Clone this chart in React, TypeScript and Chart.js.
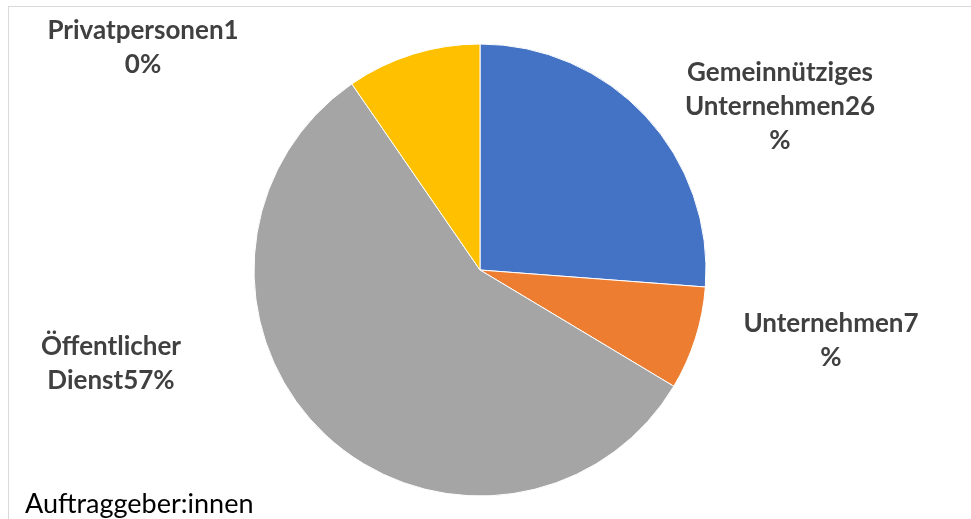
import React, { useEffect, useRef } from "react";
import { Chart, registerables } from "chart.js";

Chart.register(...registerables);

const categories = ["Gemeinnütziges Unternehmen", "Unternehmen", "Öffentlicher Dienst", "Privatpersonen"];
const shares = [26.2, 7.4, 56.8, 9.6];
const sliceColors = ["#4472C4", "#ED7D31", "#A5A5A5", "#FFC000"];
const captionText = "Auftraggeber:innen";

// label layout (canvas px): centre x, first baseline y, wrap width
const labelLayout = [
  { x: 771, y: 74, wrap: 195 },
  { x: 822, y: 325, wrap: 185 },
  { x: 102, y: 348, wrap: 200 },
  { x: 134, y: 32, wrap: 196 },
];

const FONT_FAMILY = "Lato, 'Open Sans', sans-serif";
const LABEL_SIZE = 26;
const CAPTION_SIZE = 27;
const LINE_H = 34;

function wrapText(ctx: CanvasRenderingContext2D, text: string, maxW: number): string[] {
  const words = text.split(" ");
  const lines: string[] = [];
  let cur = "";
  for (const w of words) {
    const trial = cur ? cur + " " + w : w;
    if (ctx.measureText(trial).width <= maxW) {
      cur = trial;
      continue;
    }
    if (cur) {
      lines.push(cur);
      cur = "";
    }
    if (ctx.measureText(w).width <= maxW) {
      cur = w;
      continue;
    }
    let piece = "";
    for (const ch of Array.from(w)) {
      if (ctx.measureText(piece + ch).width <= maxW) piece += ch;
      else {
        lines.push(piece);
        piece = ch;
      }
    }
    cur = piece;
  }
  if (cur) lines.push(cur);
  return lines;
}

const labelPlugin = {
  id: "excelLabels",
  afterDraw(chart: any) {
    const ctx: CanvasRenderingContext2D = chart.ctx;
    const data: number[] = chart.data.datasets[0].data;
    const total = data.reduce((a, b) => a + b, 0);
    ctx.save();
    ctx.font = `bold ${LABEL_SIZE}px ${FONT_FAMILY}`;
    ctx.fillStyle = "#404040";
    ctx.textAlign = "center";
    ctx.textBaseline = "alphabetic";
    chart.data.labels.forEach((lab: string, i: number) => {
      const pct = Math.round((data[i] / total) * 100);
      const L = labelLayout[i];
      const lines = wrapText(ctx, `${lab}${pct}%`, L.wrap);
      lines.forEach((ln, k) => ctx.fillText(ln, L.x, L.y + k * LINE_H));
    });
    ctx.font = `${CAPTION_SIZE}px ${FONT_FAMILY}`;
    ctx.fillStyle = "#000000";
    ctx.textAlign = "left";
    ctx.fillText(captionText, 16, 506);
    ctx.restore();
  },
};

export default function App() {
  const ref = useRef<HTMLCanvasElement | null>(null);
  useEffect(() => {
    if (!ref.current) return;
    const chart = new Chart(ref.current, {
      type: "pie",
      data: {
        labels: categories,
        datasets: [
          {
            data: shares,
            backgroundColor: sliceColors,
            borderColor: "#ffffff",
            borderWidth: 1,
            radius: 226,
          } as any,
        ],
      },
      options: {
        responsive: false,
        animation: false,
        rotation: 0,
        layout: { padding: { left: 0, right: 19, top: 14, bottom: 0 } },
        plugins: {
          legend: { display: false },
          tooltip: { enabled: false },
          title: { display: false },
        },
      },
      plugins: [labelPlugin],
    });
    return () => chart.destroy();
  }, []);
  return (
    <div
      style={{
        position: "fixed",
        left: 8,
        top: 6,
        width: 980,
        height: 600,
        boxSizing: "border-box",
        border: "1px solid #d9d9d9",
        background: "#ffffff",
      }}
    >
      <canvas
        ref={ref}
        width={961}
        height={512}
        style={{ position: "absolute", left: 0, top: 0, width: 961, height: 512 }}
      />
    </div>
  );
}
